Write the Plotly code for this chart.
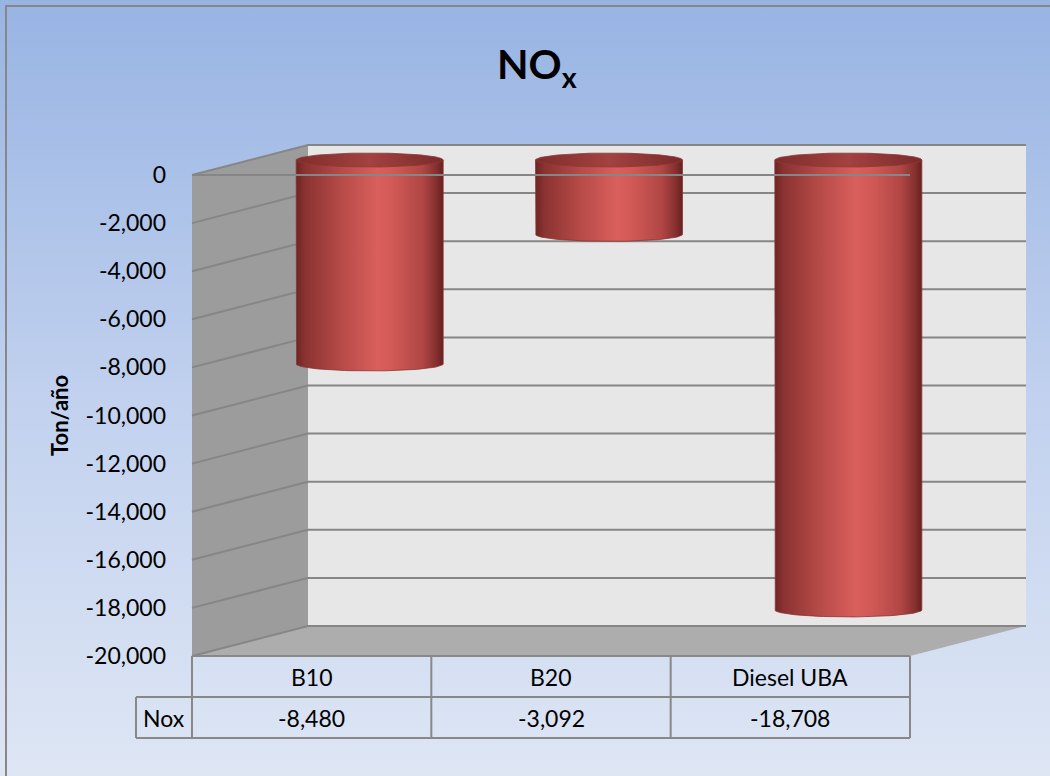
import numpy as np
import plotly.graph_objects as go

# ---- data ----
categories = ["B10", "B20", "Diesel UBA"]
series_name = "Nox"
nox_values = [-8480, -3092, -18708]
tick_values = list(range(0, -20001, -2000))
tick_labels = [f"{t:,}" for t in tick_values]
title_text = "NO<sub>x</sub>"
axis_title = "Ton/año"

# ---- layout geometry (pixels) ----
W, H = 1050, 776
CAT_LEFT_PX, CAT_RIGHT_PX = 192, 910      # front edge of the category band
VAL_TOP_PX, VAL_BOT_PX = 175, 656         # front positions of 0 and -20,000
VMIN, VMAX = -20000, 0
DEPTH_DX_PX, DEPTH_DY_PX = 116, 30        # oblique offset of the back wall
CYL_HALF_W_PX, CYL_RY_PX = 73.5, 7
ROW1_PX, ROW2_PX = 697, 738               # table row boundaries
NAME_COL_LEFT_PX = 136
TEXT_SIZE = 23

ncat = len(categories)
ppc = (CAT_RIGHT_PX - CAT_LEFT_PX) / ncat          # px per category
ppv = (VAL_BOT_PX - VAL_TOP_PX) / (VMAX - VMIN)    # px per value unit
x_range = [-0.5 - CAT_LEFT_PX / ppc, ncat - 0.5 + (W - CAT_RIGHT_PX) / ppc]
y_range = [VMIN - (H - VAL_BOT_PX) / ppv, VMAX + VAL_TOP_PX / ppv]
dx = DEPTH_DX_PX / ppc
dy = DEPTH_DY_PX / ppv
xl, xr = -0.5, ncat - 0.5


def py2paper(px):
    return 1 - px / H


def px2paper(px):
    return px / W


fig = go.Figure()

# background gradient
fig.add_trace(go.Scatter(
    x=[x_range[0], x_range[1], x_range[1], x_range[0], x_range[0]],
    y=[y_range[0], y_range[0], y_range[1], y_range[1], y_range[0]],
    mode="lines", line=dict(width=0), fill="toself",
    fillgradient=dict(type="vertical",
                      colorscale=[[0, "#DEE6F4"], [0.5, "#C0D0EE"], [1, "#98B4E3"]]),
    hoverinfo="skip", showlegend=False))

# back wall
fig.add_trace(go.Scatter(
    x=[xl + dx, xr + dx, xr + dx, xl + dx, xl + dx],
    y=[VMIN + dy, VMIN + dy, VMAX + dy, VMAX + dy, VMIN + dy],
    mode="lines", line=dict(width=0), fill="toself", fillcolor="#E7E7E7",
    hoverinfo="skip", showlegend=False))

# left side wall
fig.add_trace(go.Scatter(
    x=[xl, xl + dx, xl + dx, xl, xl],
    y=[VMAX, VMAX + dy, VMIN + dy, VMIN, VMAX],
    mode="lines", line=dict(width=0), fill="toself", fillcolor="#9C9C9C",
    hoverinfo="skip", showlegend=False))

# floor
fig.add_trace(go.Scatter(
    x=[xl, xl + dx, xr + dx, xr, xl],
    y=[VMIN, VMIN + dy, VMIN + dy, VMIN, VMIN],
    mode="lines", line=dict(width=0), fill="toself", fillcolor="#ADADAD",
    hoverinfo="skip", showlegend=False))

# gridlines on back wall and side wall
gx, gy = [], []
for t in tick_values:
    gx += [xl, xl + dx, xr + dx, None]
    gy += [t, t + dy, t + dy, None]
fig.add_trace(go.Scatter(x=gx, y=gy, mode="lines",
                         line=dict(color="#868686", width=2),
                         hoverinfo="skip", showlegend=False))

# cylinders
body_scale = [[0, "#6E2524"], [0.06, "#8A3331"], [0.3, "#B54A47"],
              [0.55, "#D95F5B"], [0.65, "#D25A56"], [0.86, "#B04644"],
              [0.95, "#873130"], [1, "#652120"]]
top_scale = [[0, "#7E2D2C"], [0.5, "#A34240"], [1, "#7A2B2A"]]
rw = CYL_HALF_W_PX / ppc
ry = CYL_RY_PX / ppv
theta_low = np.linspace(np.pi, 2 * np.pi, 60)
theta_full = np.linspace(0, 2 * np.pi, 120)
for i, (cat, v) in enumerate(zip(categories, nox_values)):
    cx = i + dx / 2
    top = VMAX + dy / 2
    bot = v + dy / 2
    bx = [cx - rw, cx - rw] + list(cx + rw * np.cos(theta_low)) + [cx + rw, cx - rw]
    by = [top, bot] + list(bot + ry * np.sin(theta_low)) + [top, top]
    fig.add_trace(go.Scatter(
        x=bx, y=by, mode="lines", line=dict(width=0.8, color="#8A3331"),
        fill="toself", fillgradient=dict(type="horizontal", colorscale=body_scale),
        name=cat, hovertemplate=f"{cat}: {v:,}<extra></extra>", showlegend=False))
    fig.add_trace(go.Scatter(
        x=cx + rw * np.cos(theta_full), y=top + ry * np.sin(theta_full),
        mode="lines", line=dict(width=0.8, color="#8E3634"),
        fill="toself", fillgradient=dict(type="horizontal", colorscale=top_scale),
        hoverinfo="skip", showlegend=False))

# front zero line
fig.add_trace(go.Scatter(x=[xl, xr], y=[VMAX, VMAX], mode="lines",
                         line=dict(color="#868686", width=2),
                         hoverinfo="skip", showlegend=False))

# data table below the plot
shapes = []
line_style = dict(color="#888888", width=2)
y_top, y_mid, y_bot = py2paper(VAL_BOT_PX), py2paper(ROW1_PX), py2paper(ROW2_PX)
shapes.append(dict(type="line", xref="x", yref="paper", x0=xl, x1=xr,
                   y0=y_top, y1=y_top, line=line_style))
for yy in (y_mid, y_bot):
    shapes.append(dict(type="line", xref="paper", yref="paper",
                       x0=px2paper(NAME_COL_LEFT_PX), x1=px2paper(CAT_RIGHT_PX),
                       y0=yy, y1=yy, line=line_style))
for k in range(ncat + 1):
    shapes.append(dict(type="line", xref="x", yref="paper", x0=k - 0.5, x1=k - 0.5,
                       y0=y_top, y1=y_bot, line=line_style))
shapes.append(dict(type="line", xref="paper", yref="paper",
                   x0=px2paper(NAME_COL_LEFT_PX), x1=px2paper(NAME_COL_LEFT_PX),
                   y0=y_mid, y1=y_bot, line=line_style))
# outer frame
shapes.append(dict(type="rect", xref="paper", yref="paper",
                   x0=px2paper(6), x1=1.05, y0=-0.05, y1=py2paper(6),
                   line=dict(color="#878787", width=2)))

font = "Lato, 'Open Sans', sans-serif"
txt = dict(showarrow=False, xanchor="center", yanchor="middle")
cell_font = dict(family=font, size=TEXT_SIZE, color="#000")
annotations = []
for i, (cat, v) in enumerate(zip(categories, nox_values)):
    annotations.append(dict(x=i, y=(y_top + y_mid) / 2, xref="x", yref="paper",
                            text=cat, font=cell_font, **txt))
    annotations.append(dict(x=i, y=(y_mid + y_bot) / 2, xref="x", yref="paper",
                            text=f"{v:,}", font=cell_font, **txt))
annotations.append(dict(x=px2paper((NAME_COL_LEFT_PX + CAT_LEFT_PX) / 2),
                        y=(y_mid + y_bot) / 2, xref="paper", yref="paper",
                        text=series_name, font=cell_font, **txt))
annotations.append(dict(x=px2paper(59), y=py2paper(416), xref="paper", yref="paper",
                        text=f"<b>{axis_title}</b>", textangle=-90,
                        font=dict(family=font, size=22, color="#000"), **txt))
annotations.append(dict(x=px2paper(537), y=py2paper(66), xref="paper", yref="paper",
                        text=f"<b>{title_text}</b>",
                        font=dict(family=font, size=41, color="#000"), **txt))

fig.update_layout(
    width=W, height=H, margin=dict(l=0, r=0, t=0, b=0),
    paper_bgcolor="#C0D0EE", plot_bgcolor="rgba(0,0,0,0)",
    showlegend=False, shapes=shapes, annotations=annotations,
    xaxis=dict(range=x_range, domain=[0, 1], visible=False, fixedrange=True),
    yaxis=dict(range=y_range, domain=[0, 1], anchor="free",
               position=px2paper(CAT_LEFT_PX), showgrid=False, zeroline=False,
               showline=False, ticks="", tickvals=tick_values, ticktext=tick_labels,
               ticklabelstandoff=26,
               tickfont=dict(family=font, size=TEXT_SIZE, color="#000"),
               fixedrange=True),
)

fig.write_html("out.html")
